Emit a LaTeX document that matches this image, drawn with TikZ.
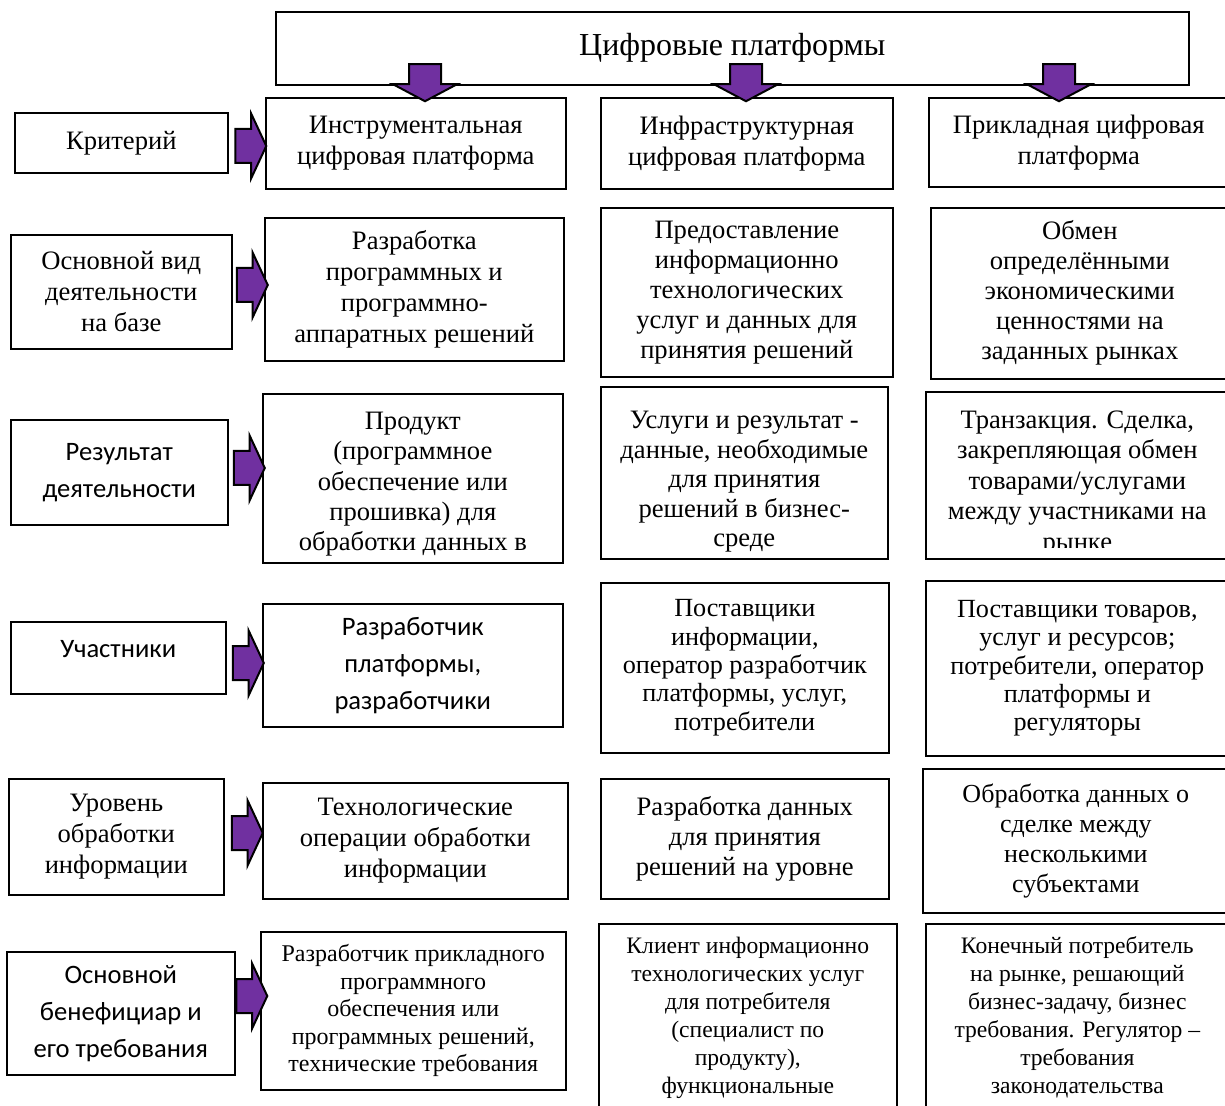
\documentclass[tikz,border=0pt]{standalone}
\usepackage{fontspec}
\setmainfont{Liberation Serif}
\newfontfamily\calibri{Carlito}
\usetikzlibrary{shapes.arrows,calc}
\definecolor{arrowpurple}{RGB}{112,48,160}
\begin{document}
\begin{tikzpicture}[x=0.5pt, y=-0.5pt, line join=miter,
  cell/.style={draw, line width=0.8pt, anchor=north west, align=center, inner sep=1pt, font=\fontsize{13.3}{15.5}\selectfont},
  sanscell/.style={cell, font=\calibri\fontsize{13.3}{18.5}\selectfont},
  celltext/.style={align=center, inner sep=0pt, font=\fontsize{13.3}{15.25}\selectfont},
  blockarrow/.style={single arrow, draw=black, line width=1pt, fill=arrowpurple, inner xsep=0pt, inner ysep=8pt, minimum height=15.5pt, minimum width=0pt, single arrow head extend=7.75pt, single arrow tip angle=130},
  downarrow/.style={blockarrow, rotate=-90, minimum height=18.5pt, inner ysep=7.5pt, single arrow head extend=8pt, single arrow tip angle=124}]
\useasboundingbox (0,0) rectangle (1225,1106);
\node[cell, minimum width=456.5pt, minimum height=36.5pt, font=\fontsize{16}{19}\selectfont] (T) at (275,11) {Цифровые платформы};
% row 1
\node[cell, minimum width=106.5pt, minimum height=30pt] (L1) at (14,112) {Критерий};
\node[cell, minimum width=150pt, minimum height=45.5pt] (C11) at (265,97) {Инструментальная\\цифровая платформа};
\node[cell, minimum width=146pt, minimum height=45.5pt] (C21) at (600,97) {Инфраструктурная\\цифровая платформа};
\node[cell, minimum width=150pt, minimum height=44.5pt] (C31) at (928,97) {Прикладная цифровая\\платформа};
% row 2
\node[cell, minimum width=110.5pt, minimum height=57pt] (L2) at (10,234) {Основной вид\\деятельности\\на базе};
\node[cell, minimum width=149.5pt, minimum height=71.5pt] (C12) at (264,217) {Разработка\\программных и\\программно-\\аппаратных решений};
\node[cell, minimum width=146pt, minimum height=84.5pt, font=\fontsize{13.3}{15}\selectfont] (C22) at (600,207) {Предоставление\\информационно\\технологических\\услуг и данных для\\принятия решений};
\node[cell, minimum width=149pt, minimum height=85.5pt, font=\fontsize{13.3}{15}\selectfont] (C32) at (930,207) {Обмен\\определёнными\\экономическими\\ценностями на\\заданных рынках};
% row 3
\node[sanscell, minimum width=108.5pt, minimum height=52.5pt] (L3) at (10,419) {Результат\\деятельности};
\node[cell, minimum width=150pt, minimum height=84.5pt] (C13) at (262,393) {};
\node[celltext, font=\fontsize{13.3}{15.2}\selectfont] at ($(C13.center)+(0,6)$) {Продукт\\(программное\\обеспечение или\\прошивка) для\\обработки данных в};
\node[cell, minimum width=143.5pt, minimum height=86pt] (C23) at (600,386) {};
\node[celltext, font=\fontsize{13.3}{14.8}\selectfont] at ($(C23.center)+(0,9)$) {Услуги и результат -\\данные, необходимые\\для принятия\\решений в бизнес-\\среде};
\node[cell, minimum width=151.5pt, minimum height=83.5pt] (C33) at (925,391) {};
\begin{scope}
\clip (925,391) rectangle (1228,547);
\node[celltext] at ($(C33.center)+(0,8)$) {Транзакция. Сделка,\\закрепляющая обмен\\товарами/услугами\\между участниками на\\рынке};
\end{scope}
% row 4
\node[sanscell, minimum width=107.5pt, minimum height=36pt, text depth=9pt] (L4) at (10,621) {Участники};
\node[sanscell, minimum width=150pt, minimum height=61.5pt] (C14) at (262,603) {Разработчик\\платформы,\\разработчики};
\node[cell, minimum width=144pt, minimum height=85pt, font=\fontsize{13.1}{14.2}\selectfont] (C24) at (600,582) {Поставщики\\информации,\\оператор разработчик\\платформы, услуг,\\потребители};
\node[cell, minimum width=151.5pt, minimum height=87.5pt, font=\fontsize{13.1}{14.2}\selectfont] (C34) at (925,580) {Поставщики товаров,\\услуг и ресурсов;\\потребители, оператор\\платформы и\\регуляторы};
% row 5
\node[cell, minimum width=107.5pt, minimum height=58pt] (L5) at (8,778) {Уровень\\обработки\\информации};
\node[cell, minimum width=152.5pt, minimum height=58pt] (C15) at (262,782) {Технологические\\операции обработки\\информации};
\node[cell, minimum width=144pt, minimum height=60pt, font=\fontsize{13.3}{15}\selectfont] (C25) at (600,778) {Разработка данных\\для принятия\\решений на уровне};
\node[cell, minimum width=153pt, minimum height=72pt, font=\fontsize{13}{15}\selectfont] (C35) at (922,768) {Обработка данных о\\сделке между\\несколькими\\субъектами};
% row 6
\node[sanscell, minimum width=114pt, minimum height=61.5pt] (L6) at (6,951) {Основной\\бенефициар и\\его требования};
\node[cell, minimum width=152.5pt, minimum height=79pt, font=\fontsize{12}{13.75}\selectfont] (C16) at (260,931) {Разработчик прикладного\\программного\\обеспечения или\\программных решений,\\технические требования};
\node[cell, minimum width=149pt, minimum height=94pt, font=\fontsize{11.8}{14}\selectfont] (C26) at (598,923) {Клиент информационно\\технологических услуг\\для потребителя\\(специалист по\\продукту),\\функциональные};
\node[cell, minimum width=151.5pt, minimum height=94pt, font=\fontsize{11.8}{14}\selectfont] (C36) at (925,923) {Конечный потребитель\\на рынке, решающий\\бизнес-задачу, бизнес\\требования. Регулятор –\\требования\\законодательства};
% arrows
\foreach \c/\x in {1/425, 2/746, 3/1059}
  \node[downarrow] (D\c) at (\x,78.5) {};
\foreach \r/\y in {1/146, 2/285, 3/468, 4/663, 5/833, 6/996} {
  \coordinate (m\r) at ($(L\r.east)!0.5!(C1\r.west)$);
  \node[blockarrow] (A\r) at (m\r |- 0,\y) {};
}
\end{tikzpicture}
\end{document}
